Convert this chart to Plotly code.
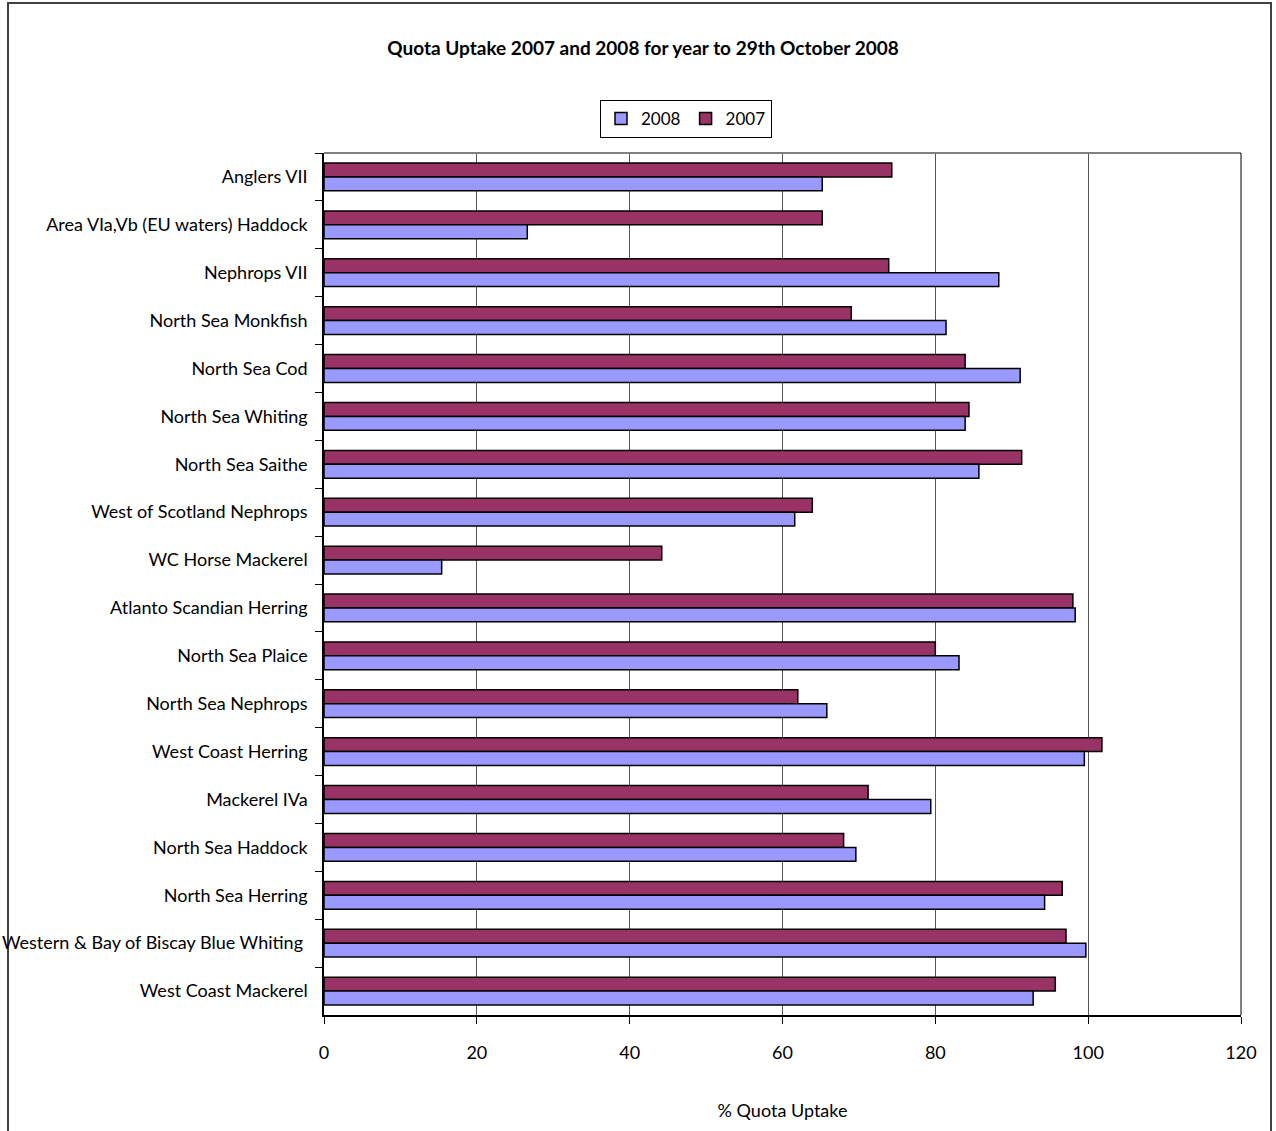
import plotly.graph_objects as go

categories = [
    "Anglers VII",
    "Area VIa,Vb (EU waters) Haddock",
    "Nephrops VII",
    "North Sea Monkfish",
    "North Sea Cod",
    "North Sea Whiting",
    "North Sea Saithe",
    "West of Scotland Nephrops",
    "WC Horse Mackerel",
    "Atlanto Scandian Herring",
    "North Sea Plaice",
    "North Sea Nephrops",
    "West Coast Herring",
    "Mackerel IVa",
    "North Sea Haddock",
    "North Sea Herring",
    "Western & Bay of Biscay Blue Whiting ",
    "West Coast Mackerel",
]
values_2008 = [65.2, 26.6, 88.3, 81.4, 91.1, 83.9, 85.7, 61.6, 15.4, 98.3,
               83.1, 65.8, 99.5, 79.4, 69.6, 94.3, 99.7, 92.8]
values_2007 = [74.3, 65.2, 73.9, 69.0, 83.9, 84.4, 91.3, 63.9, 44.2, 98.0,
               80.0, 62.0, 101.8, 71.2, 68.0, 96.6, 97.1, 95.7]
x_ticks = [0, 20, 40, 60, 80, 100, 120]

FONT = "Lato, 'Open Sans', sans-serif"

fig = go.Figure()
fig.add_trace(go.Bar(
    name="2007", y=categories, x=values_2007, orientation="h",
    marker=dict(color="#993366", line=dict(color="#000000", width=1.5)),
))
fig.add_trace(go.Bar(
    name="2008", y=categories, x=values_2008, orientation="h",
    marker=dict(color="#9999FF", line=dict(color="#000000", width=1.5)),
))

fig.update_layout(
    width=1276, height=1131,
    margin=dict(l=324, r=35, t=153, b=116),
    paper_bgcolor="white", plot_bgcolor="white",
    font=dict(family=FONT, size=18, color="#000000"),
    barmode="group", bargap=0.42, bargroupgap=0,
    title=dict(text="<b>Quota Uptake 2007 and 2008 for year to 29th October 2008</b>",
               x=643 / 1276, xanchor="center", xref="container",
               y=1 - 48 / 1131, yanchor="middle", yref="container",
               font=dict(size=19, family=FONT)),
    legend=dict(orientation="h", traceorder="reversed",
                x=(686 - 324) / 917, xanchor="center",
                y=(1015 - 100) / 862, yanchor="top",
                bordercolor="#000000", borderwidth=1,
                font=dict(size=17, family=FONT), itemwidth=30,
                tracegroupgap=0),
    showlegend=True,
    shapes=[dict(type="rect", xref="paper", yref="paper",
                 x0=(8 - 324) / 917, x1=(1271 - 324) / 917,
                 y0=-0.3, y1=(1015 - 3) / 862,
                 line=dict(color="#404040", width=2), layer="below")],
)

fig.update_xaxes(
    range=[0, 120], tickvals=x_ticks, ticktext=[str(v) for v in x_ticks],
    showgrid=True, gridcolor="#555555", gridwidth=1,
    showline=True, linecolor="#000000", linewidth=1.5, mirror=False,
    ticks="outside", ticklen=7, tickcolor="#000000", automargin=False,
    tickfont=dict(size=18), zeroline=False, ticklabelstandoff=14,
    title=dict(text="% Quota Uptake", font=dict(size=18), standoff=42),
)
fig.update_yaxes(
    autorange="reversed", type="category", automargin=False,
    showline=True, linecolor="#000000", linewidth=1.5,
    ticks="outside", ticklen=7, tickcolor="#000000", tickson="boundaries",
    tickfont=dict(size=18), ticklabelstandoff=11, showgrid=False,
)
# plot frame (top and right borders)
fig.add_shape(type="line", xref="paper", yref="paper", x0=0, x1=1, y0=1, y1=1,
              line=dict(color="#808080", width=2))
fig.add_shape(type="line", xref="paper", yref="paper", x0=1, x1=1, y0=0, y1=1,
              line=dict(color="#000000", width=1))

fig.write_html("out.html")
